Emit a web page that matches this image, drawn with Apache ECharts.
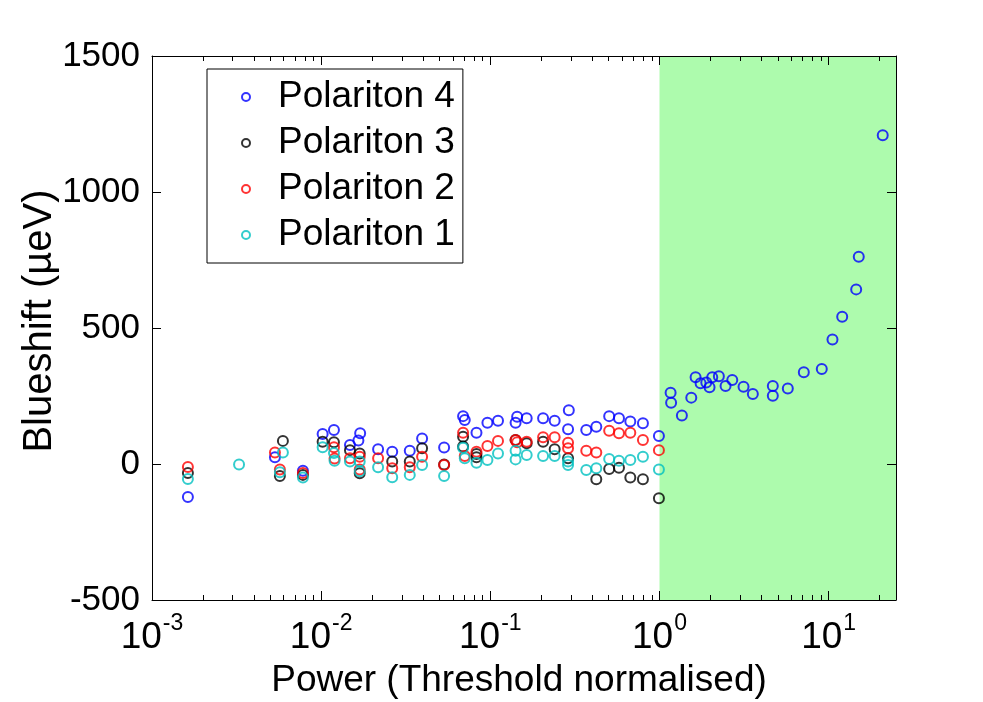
<!DOCTYPE html>
<html>
<head>
<meta charset="utf-8">
<script src="https://cdn.jsdelivr.net/npm/echarts@6/dist/echarts.min.js"></script>
<style>
  html, body { margin: 0; padding: 0; background: #fff; }
  #chart { width: 983px; height: 702px; }
</style>
</head>
<body>
<div id="chart"></div>
<script>
// Blueshift of the four polariton modes versus excitation power (threshold normalised)
const seriesNames = ['Polariton 4', 'Polariton 3', 'Polariton 2', 'Polariton 1'];
const seriesColors = ['#0000ff', '#000000', '#ff0000', '#00c0c0'];

const p4Power = [0.00163, 0.00533, 0.0078, 0.0102, 0.0119, 0.0148, 0.0166, 0.0170, 0.0217, 0.0263,
  0.0334, 0.0395, 0.0533, 0.0690, 0.0706, 0.0828, 0.0961, 0.111, 0.141, 0.144, 0.164, 0.205, 0.240,
  0.288, 0.291, 0.369, 0.423, 0.504, 0.576, 0.672, 0.798, 0.992,
  1.163, 1.171, 1.356, 1.541, 1.634, 1.749, 1.890, 1.976, 2.050, 2.243, 2.457, 2.692, 3.138, 3.562,
  4.675, 4.675, 5.733, 7.129, 9.104, 10.53, 12.02, 14.54, 15.06, 20.87];
const p4Shift = [-121, 25, -25, 110, 125, 70, 86, 113, 54, 45,
  49, 94, 61, 176, 162, 115, 152, 159, 152, 174, 168, 168, 159,
  128, 198, 125, 137, 176, 168, 156, 150, 103,
  262, 225, 178, 244, 319, 297, 300, 282, 319, 323, 287, 309, 284, 257,
  287, 251, 278, 337, 349, 458, 541, 642, 762, 1209];

const p3Power = [0.00163, 0.0057, 0.00594, 0.0078, 0.0102, 0.0119, 0.0148, 0.0169, 0.0169, 0.0263,
  0.0334, 0.0395, 0.0533, 0.0690, 0.0690, 0.0828, 0.0828, 0.141, 0.164, 0.205, 0.240, 0.288,
  0.423, 0.504, 0.576, 0.672, 0.798, 0.992];
const p3Shift = [-33, -44, 85, -40, 82, 80, 51, 39, -34, 9,
  9, 58, -2, 100, 64, 37, 25, 88, 76, 82, 54, 21,
  -56, -18, -14, -50, -56, -126];

const p2Power = [0.00163, 0.00533, 0.0057, 0.0078, 0.0119, 0.0120, 0.0148, 0.0169, 0.0169, 0.0217,
  0.0263, 0.0334, 0.0395, 0.0533, 0.0690, 0.0706, 0.0828, 0.0961, 0.111, 0.141, 0.144, 0.164,
  0.205, 0.240, 0.288, 0.288, 0.369, 0.423, 0.504, 0.576, 0.672, 0.798, 0.992];
const p2Shift = [-11, 42, -20, -33, 62, 20, 21, 27, -20, 21,
  -16, -12, 27, -4, 115, 29, 45, 66, 85, 88, 80, 82,
  98, 98, 78, 58, 49, 42, 122, 113, 115, 88, 51];

const p1Power = [0.00163, 0.00327, 0.0057, 0.00594, 0.0078, 0.0102, 0.0119, 0.0120, 0.0148, 0.0169,
  0.0169, 0.0217, 0.0263, 0.0334, 0.0395, 0.0533, 0.0690, 0.0706, 0.0828, 0.0961, 0.111, 0.141,
  0.141, 0.164, 0.205, 0.240, 0.288, 0.288, 0.369, 0.423, 0.504, 0.576, 0.672, 0.798, 0.992];
const p1Shift = [-55, -2, -30, 42, -50, 62, 40, 12, 9, 9,
  -27, -12, -49, -40, -4, -44, 60, 21, 5, 15, 39, 49,
  17, 33, 29, 29, 9, -4, -22, -16, 18, 12, 15, 27, -20];

// Axis ranges and tick values
const xMin = 0.001, xMax = 25;
const yMin = -500, yMax = 1500, yStep = 500;
const xMajorTicks = [0.001, 0.01, 0.1, 1, 10];
const xMinorTicks = [];
for (let d = -3; d <= 1; d++) {
  for (let m = 2; m <= 9; m++) {
    const v = m * Math.pow(10, d);
    if (v < xMax) xMinorTicks.push(+v.toPrecision(3));
  }
}
const thresholdPower = 1; // region above lasing threshold

const powers = [p4Power, p3Power, p2Power, p1Power];
const shifts = [p4Shift, p3Shift, p2Shift, p1Shift];

const FONT = '"Liberation Sans", Arial, sans-serif';
const FS = 37;
const AXIS_COLOR = '#000';
const AXIS_Z = 10;
// ticks point into the plot area
const MAJOR_TICK = -9, MINOR_TICK = -5;

function pairs(xs, ys) { return xs.map((x, i) => [x, ys[i]]); }

const scatterSeries = seriesNames.map((name, i) => ({
  name: name,
  type: 'scatter',
  xAxisIndex: 0,
  yAxisIndex: 0,
  z: 3,
  symbol: 'circle',
  symbolSize: 10,
  itemStyle: { color: 'rgba(0,0,0,0)', borderColor: seriesColors[i], borderWidth: 2 },
  emphasis: { disabled: true },
  data: pairs(powers[i], shifts[i])
}));

const lineStyle = { color: AXIS_COLOR, width: 1 };
const tickStyle = { color: AXIS_COLOR, width: 1 };

const xAxisBase = {
  type: 'log',
  logBase: 10,
  min: xMin,
  max: xMax,
  z: AXIS_Z,
  splitLine: { show: false },
  axisLine: { show: true, onZero: false, lineStyle: lineStyle }
};

const chart = echarts.init(document.getElementById('chart'), null, { renderer: 'canvas' });
chart.setOption({
  animation: false,
  backgroundColor: '#fff',
  textStyle: { fontFamily: FONT },
  grid: { left: 152, right: 87, top: 56, bottom: 102, show: false, containLabel: false, outerBoundsMode: 'none' },
  legend: {
    data: seriesNames,
    orient: 'vertical',
    left: 207,
    top: 69,
    padding: [8, 8, 8, 34],
    itemGap: 6,
    itemWidth: 8,
    itemHeight: 8,
    icon: 'circle',
    borderColor: '#000',
    borderWidth: 1,
    borderRadius: 0,
    backgroundColor: '#fff',
    textStyle: { fontFamily: FONT, fontSize: FS, color: '#000', lineHeight: 40, padding: [0, 0, 0, 23] },
    itemStyle: { borderWidth: 2 }
  },
  xAxis: [
    Object.assign({}, xAxisBase, {
      position: 'bottom',
      name: 'Power (Threshold normalised)',
      nameLocation: 'middle',
      nameGap: 62,
      nameMoveOverlap: false,
      nameTextStyle: { fontFamily: FONT, fontSize: FS, color: '#000', padding: [0, 10, 0, 0] },
      axisTick: { show: true, length: MAJOR_TICK, customValues: xMajorTicks, lineStyle: tickStyle },
      axisLabel: {
        show: true,
        margin: 12,
        customValues: xMajorTicks,
        formatter: v => '{b|10}{s|' + Math.round(Math.log10(v)) + '}',
        rich: {
          b: { fontFamily: FONT, fontSize: FS, color: '#000', lineHeight: 44, verticalAlign: 'bottom' },
          s: { fontFamily: FONT, fontSize: 23, color: '#000', lineHeight: 44, verticalAlign: 'top', padding: [0, 0, 0, 1] }
        }
      }
    }),
    Object.assign({}, xAxisBase, {
      position: 'bottom',
      axisLine: { show: false, onZero: false },
      axisTick: { show: true, length: MINOR_TICK, customValues: xMinorTicks, lineStyle: tickStyle },
      axisLabel: { show: false }
    }),
    Object.assign({}, xAxisBase, {
      position: 'top',
      axisTick: { show: true, length: MAJOR_TICK, customValues: xMajorTicks, lineStyle: tickStyle },
      axisLabel: { show: false }
    }),
    Object.assign({}, xAxisBase, {
      position: 'top',
      axisLine: { show: false, onZero: false },
      axisTick: { show: true, length: MINOR_TICK, customValues: xMinorTicks, lineStyle: tickStyle },
      axisLabel: { show: false }
    })
  ],
  yAxis: [
    {
      type: 'value',
      position: 'left',
      z: AXIS_Z,
      min: yMin, max: yMax, interval: yStep,
      name: 'Blueshift (\u00b5eV)',
      nameLocation: 'middle',
      nameGap: 92,
      nameRotate: 90,
      nameMoveOverlap: false,
      nameTextStyle: { fontFamily: FONT, fontSize: 40, color: '#000', padding: [0, 0, 0, 14] },
      splitLine: { show: false },
      axisLine: { show: true, onZero: false, lineStyle: lineStyle },
      axisTick: { show: true, length: MAJOR_TICK, lineStyle: tickStyle },
      axisLabel: { fontFamily: FONT, fontSize: 35, color: '#000', margin: 12, formatter: v => String(v) }
    },
    {
      type: 'value',
      position: 'right',
      z: AXIS_Z,
      min: yMin, max: yMax, interval: yStep,
      splitLine: { show: false },
      axisLine: { show: true, onZero: false, lineStyle: lineStyle },
      axisTick: { show: true, length: MAJOR_TICK, lineStyle: tickStyle },
      axisLabel: { show: false }
    }
  ],
  series: [
    {
      name: 'above threshold',
      type: 'scatter',
      xAxisIndex: 0,
      yAxisIndex: 0,
      z: 1,
      data: [],
      silent: true,
      markArea: {
        silent: true,
        itemStyle: { color: '#adfbad', opacity: 1 },
        data: [[{ xAxis: thresholdPower, yAxis: yMin }, { xAxis: xMax, yAxis: yMax }]]
      }
    }
  ].concat(scatterSeries)
});
</script>
</body>
</html>
